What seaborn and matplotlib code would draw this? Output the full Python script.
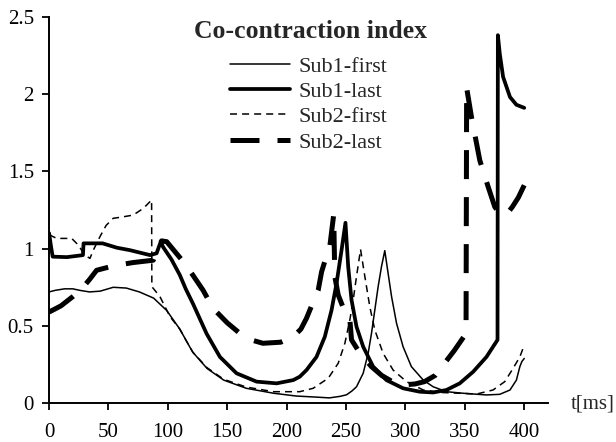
import matplotlib
matplotlib.use("Agg")
import matplotlib.pyplot as plt
import seaborn as sns
import pandas as pd

# ---- data: time [ms] and co-contraction index per subject/trial ----
t_sub1_first = [0, 5, 13, 20, 26, 34, 43, 54, 65, 76, 88, 99, 110, 118, 121, 133, 147, 166,
                189, 208, 225, 236, 245, 250.4, 255, 258.8, 264.4, 268.6, 271.4, 274.2, 277,
                279.8, 282.6, 285.4, 288.3, 292.5, 298, 305, 315, 323.3, 334.5, 348.5, 368.2,
                379.4, 388, 393.4, 396.3, 398, 400]
v_sub1_first = [0.72, 0.73, 0.74, 0.74, 0.73, 0.72, 0.725, 0.75, 0.745, 0.72, 0.68, 0.60, 0.48,
                0.37, 0.33, 0.225, 0.15, 0.097, 0.065, 0.047, 0.04, 0.035, 0.045, 0.055, 0.08,
                0.107, 0.194, 0.323, 0.452, 0.603, 0.754, 0.883, 0.987, 0.84, 0.69, 0.517,
                0.366, 0.237, 0.15, 0.107, 0.075, 0.065, 0.054, 0.058, 0.086, 0.15, 0.237,
                0.27, 0.29]

t_sub1_last = [0, 1.5, 3, 15, 28.5, 29, 45, 57, 68, 76.5, 85, 90.5, 94, 96, 103, 110, 115,
               121, 132.6, 143.8, 157.8, 174.7, 191.5, 205.5, 211, 216.7, 225.1, 232.1,
               237.8, 242, 246.2, 249.5, 251.8, 254.6, 258.8, 264.4, 272.8, 284, 298, 312,
               323.3, 334.5, 345.7, 357, 368.2, 377.5, 377.8, 379.4, 382.2, 388, 393.4, 400]
v_sub1_last = [1.10, 1.02, 0.948, 0.945, 0.958, 1.034, 1.034, 1.006, 0.99, 0.974, 0.958, 0.97,
               1.045, 1.01, 0.93, 0.83, 0.74, 0.646, 0.45, 0.30, 0.194, 0.14, 0.129, 0.15,
               0.172, 0.215, 0.30, 0.43, 0.603, 0.776, 0.99, 1.167, 0.883, 0.668, 0.495,
               0.366, 0.237, 0.15, 0.097, 0.075, 0.07, 0.086, 0.129, 0.204, 0.30, 0.41,
               2.38, 2.26, 2.11, 1.98, 1.93, 1.91]

t_sub2_first = [0, 6.4, 19, 24.6, 30, 34.4, 37.2, 42.8, 48, 54, 62, 70.8, 79.3, 86.3, 86.5,
                93.3, 101.8, 110, 118, 121, 133, 147, 166, 189, 200, 211, 222.3, 235, 243.4,
                249, 253.2, 256, 258.8, 262.2, 265.8, 270, 274.2, 281.2, 289.6, 300.9, 315,
                330, 345, 360, 373.7, 383.6, 390.6, 396.3, 399.5]
v_sub2_first = [1.09, 1.066, 1.066, 1.023, 0.958, 0.937, 0.99, 1.077, 1.15, 1.196, 1.205,
                1.217, 1.26, 1.314, 0.754, 0.69, 0.56, 0.48, 0.37, 0.33, 0.23, 0.155, 0.105,
                0.075, 0.075, 0.075, 0.097, 0.162, 0.259, 0.388, 0.54, 0.668, 0.82, 0.995,
                0.82, 0.624, 0.474, 0.323, 0.215, 0.14, 0.086, 0.07, 0.065, 0.06, 0.086,
                0.14, 0.226, 0.30, 0.366]

t_sub2_last = [0, 10, 20, 27.4, 34, 40, 55, 70.8, 87.7, 94.7, 99, 106, 113, 120, 129.7, 138,
               150, 160.6, 170, 180, 195, 205.5, 212, 216.7, 221.5, 226.5, 229.4, 233,
               236.4, 239.6, 240.5, 243.4, 248, 253.2, 254.6, 262, 271.4, 280, 289, 300,
               308, 316, 325, 333, 341, 350, 351, 351.5, 355.6, 362.6, 369.6, 375.2, 380,
               385, 390, 395, 400]
v_sub2_last = [0.59, 0.63, 0.69, 0.74, 0.80, 0.86, 0.89, 0.91, 0.925, 1.05, 1.045, 0.98,
               0.915, 0.84, 0.73, 0.614, 0.52, 0.452, 0.41, 0.388, 0.395, 0.43, 0.48, 0.55,
               0.64, 0.73, 0.85, 0.94, 1.02, 1.22, 0.82, 0.70, 0.61, 0.54, 0.41, 0.32,
               0.237, 0.18, 0.14, 0.12, 0.125, 0.14, 0.18, 0.26, 0.34, 0.44, 0.45, 2.04,
               1.85, 1.57, 1.40, 1.27, 1.22, 1.22, 1.27, 1.33, 1.41]

series_names = ["Sub1-first", "Sub1-last", "Sub2-first", "Sub2-last"]
x_ticks = [0, 50, 100, 150, 200, 250, 300, 350, 400]
y_ticks = [0, 0.5, 1, 1.5, 2, 2.5]
y_tick_labels = ["0", "0.5", "1", "1.5", "2", "2.5"]

# ---- styling ----
sns.set_style("ticks")
plt.rcParams["font.family"] = ["Liberation Serif", "DejaVu Serif"]
plt.rcParams["axes.linewidth"] = 1.4

W, H = 616, 442
fig = plt.figure(figsize=(W / 100, H / 100), dpi=100)
ax = fig.add_axes([49.1 / W, 1 - 403.3 / H, (548 - 49.1) / W, (403.3 - 16.6) / H])

series = [
    (t_sub1_first, v_sub1_first, dict(lw=1.1, linestyle="-")),
    (t_sub1_last, v_sub1_last, dict(lw=2.7, linestyle="-")),
    (t_sub2_first, v_sub2_first, dict(lw=1.1, linestyle=(0, (4.6, 3.3)))),
    (t_sub2_last, v_sub2_last, dict(lw=3.6, linestyle=(0, (5.8, 3.6)))),
]
for name, (tt, vv, style) in zip(series_names, series):
    df = pd.DataFrame({"t": tt, "v": vv})
    sns.lineplot(data=df, x="t", y="v", ax=ax, color="black", label=name,
                 estimator=None, sort=False, errorbar=None, **style)

ax.set_xlim(0, 420)
ax.set_ylim(0, 2.5)
ax.set_xticks(x_ticks)
ax.set_yticks(y_ticks)
ax.set_yticklabels(y_tick_labels)
ax.set_xlabel("")
ax.set_ylabel("")
ax.tick_params(axis="both", direction="out", length=5, width=1.3, color="black",
               labelsize=15, labelcolor="black")
ax.tick_params(axis="x", pad=9.5)
ax.tick_params(axis="y", pad=6)
sns.despine(ax=ax)
for s in ("left", "bottom"):
    ax.spines[s].set_color("black")

leg = ax.legend(loc="upper left", bbox_to_anchor=(230 / W, 1 - 56 / H),
                bbox_transform=fig.transFigure, frameon=False, fontsize=16,
                handlelength=2.7, handletextpad=0.36, labelspacing=0.215,
                borderpad=0, borderaxespad=0)

fig.text(311 / W, 1 - 32 / H, "Co-contraction index", ha="center", va="center",
         fontsize=18.5, fontweight="bold")
fig.text(570.6 / W, 1 - 404 / H, "t[ms]", ha="left", va="center", fontsize=15)

fig.savefig("out.png", dpi=100)
